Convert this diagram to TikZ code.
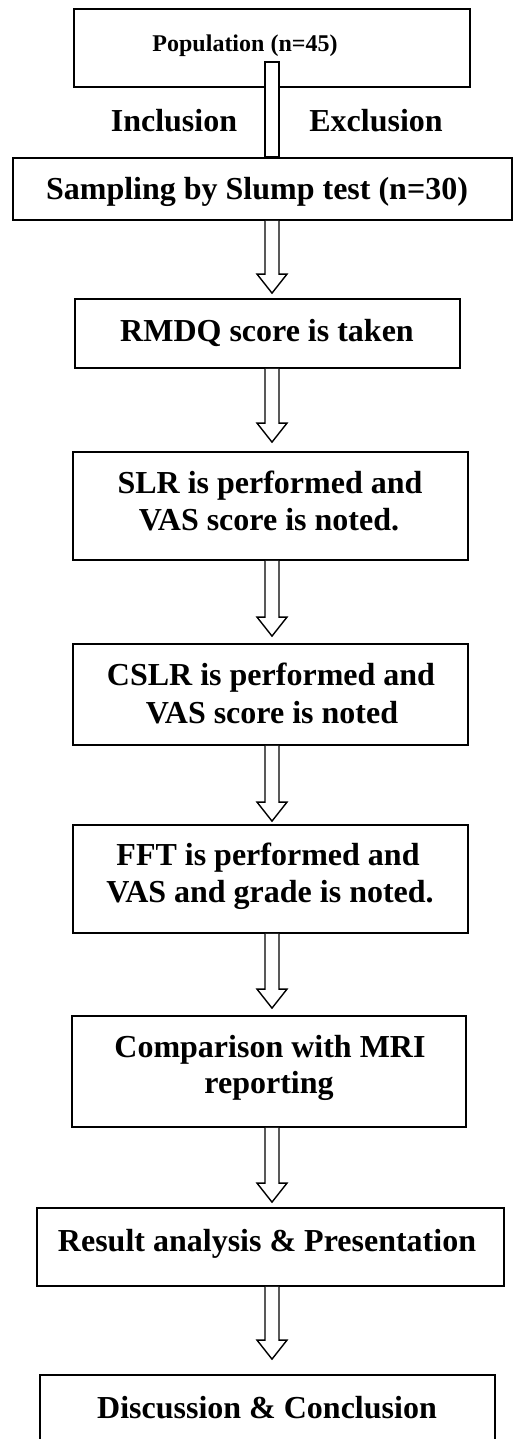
\documentclass[tikz,border=0pt]{standalone}
\usepackage{fontspec}
\setmainfont{Liberation Serif}
\usetikzlibrary{calc}
\newcommand{\bigtxt}{\fontsize{32}{37}\selectfont\bfseries}
\newcommand{\smalltxt}{\fontsize{24}{28}\selectfont\bfseries}
\tikzset{
  box/.style={draw, line width=1.8pt, rectangle, inner sep=0pt},
  txt/.style={inner sep=0pt, anchor=base, font=\bigtxt},
  arr/.style={draw, fill=white, line width=1.4pt, line join=miter},
}
\newcommand{\blockarr}[3]{%
  \draw[arr] let \p1=(ax |- #1.south), \p2=(ax |- #2.north) in
    (\x1-7pt,\y1) -- (\x1-7pt,\y2+#3pt+19pt) -- (\x1-15pt,\y2+#3pt+19pt) --
    (\x1,\y2+#3pt) -- (\x1+15pt,\y2+#3pt+19pt) -- (\x1+7pt,\y2+#3pt+19pt) -- (\x1+7pt,\y1);}
\begin{document}
\begin{tikzpicture}[x=1pt,y=-1pt]
\useasboundingbox (0,0) rectangle (513,1439);
\fill[white] (0,0) rectangle (513,1439);
\coordinate (ax) at (272,0);
% boxes
\node[box, minimum width=396pt, minimum height=78pt] (pop) at (272,48) {};
\node[box, minimum width=499pt, minimum height=62pt] (samp) at (262.5,189) {};
\node[box, minimum width=385pt, minimum height=69pt] (rmdq) at (267.5,333.5) {};
\node[box, minimum width=395pt, minimum height=108pt] (slr) at (270.5,506) {};
\node[box, minimum width=395pt, minimum height=101pt] (cslr) at (270.5,694.5) {};
\node[box, minimum width=395pt, minimum height=108pt] (fft) at (270.5,879) {};
\node[box, minimum width=394pt, minimum height=111pt] (comp) at (269,1071.5) {};
\node[box, minimum width=467pt, minimum height=78pt] (res) at (270.5,1247) {};
\node[box, minimum width=455pt, minimum height=75pt] (disc) at (267.5,1412.5) {};
% texts
\node[txt, font=\smalltxt] (popt) at (245,52) {Population (n=45)};
\node[txt] (incl) at (174,132) {Inclusion};
\node[txt] (excl) at (376,132) {Exclusion};
\node[txt] (sampt) at (257,200) {Sampling by Slump test (n=30)};
\node[txt] (rmdqt) at (267,341) {RMDQ score is taken};
\node[txt] (slra) at (270,493) {SLR is performed and};
\node[txt] (slrb) at (269,530) {VAS score is noted.};
\node[txt] (cslra) at (271,685) {CSLR is performed and};
\node[txt] (cslrb) at (272,723) {VAS score is noted};
\node[txt] (ffta) at (268,865) {FFT is performed and};
\node[txt] (fftb) at (270,902) {VAS and grade is noted.};
\node[txt] (compa) at (270,1057) {Comparison with MRI};
\node[txt] (compb) at (269,1093) {reporting};
\node[txt] (rest) at (267,1251) {Result analysis \& Presentation};
\node[txt] (disct) at (267,1418) {Discussion \& Conclusion};
% connectors
\draw[arr] let \p1=(ax |- pop.south), \p2=(ax |- samp.north) in
  (\x1-7pt,\y1+26pt) rectangle (\x1+7pt,\y2);
\blockarr{samp}{rmdq}{5}
\blockarr{rmdq}{slr}{9}
\blockarr{slr}{cslr}{7}
\blockarr{cslr}{fft}{3}
\blockarr{fft}{comp}{7}
\blockarr{comp}{res}{5}
\blockarr{res}{disc}{15}
\end{tikzpicture}
\end{document}
